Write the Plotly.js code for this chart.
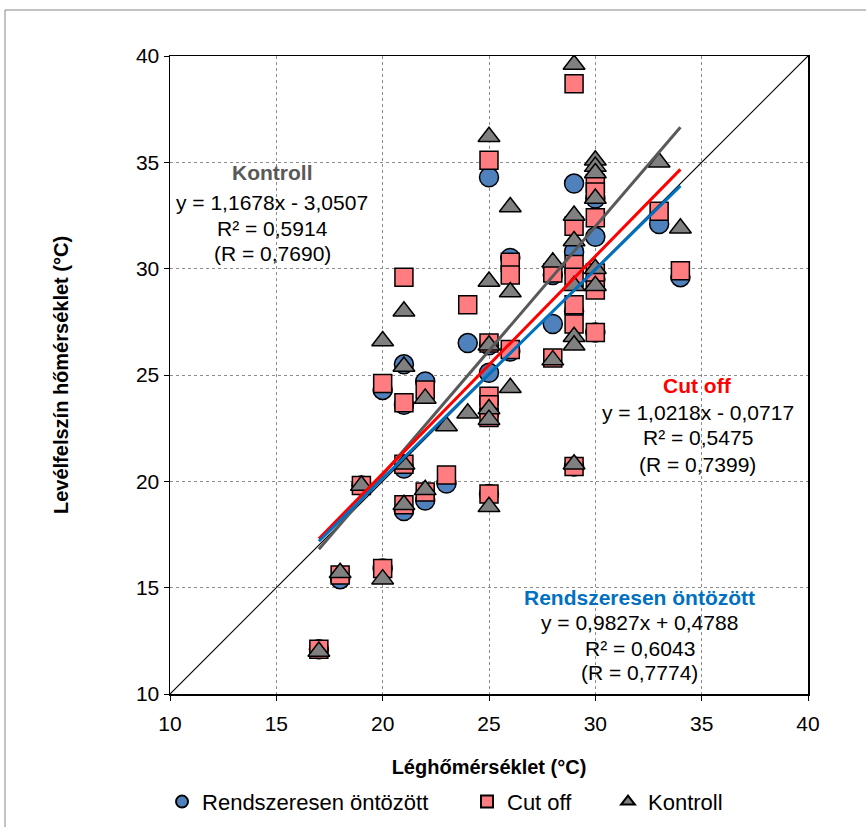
<!DOCTYPE html>
<html>
<head>
<meta charset="utf-8">
<script src="https://cdn.plot.ly/plotly-3.0.1.min.js"></script>
<style>html,body{margin:0;padding:0;background:#fff;}#chart{width:866px;height:827px;}</style>
</head>
<body>
<div id="chart"></div>
<script>
// Rendszeresen öntözött (circles)
const rendX = [17, 18, 19, 20, 20, 21, 21, 21, 21, 22, 22, 23, 24, 25, 25, 25, 25, 25, 26, 26, 28, 28, 29, 29, 29, 29, 30, 30, 30, 30, 33, 34];
const rendY = [12.1, 15.4, 19.8, 24.3, 15.9, 25.5, 23.6, 20.6, 18.6, 24.7, 19.1, 19.9, 26.5, 34.3, 26.4, 25.1, 23.2, 19.4, 30.5, 26.1, 29.7, 27.4, 34.0, 30.8, 28.0, 20.7, 33.3, 31.5, 29.5, 27.0, 32.1, 29.6];
// Cut off (squares)
const cutX = [17, 18, 19, 20, 20, 21, 21, 21, 21, 22, 22, 23, 24, 25, 25, 25, 25, 25, 25, 26, 26, 26, 28, 28, 29, 29, 29, 29, 29, 29, 29, 30, 30, 30, 30, 30, 30, 33, 34];
const cutY = [12.1, 15.6, 19.8, 24.6, 15.9, 29.6, 23.7, 20.8, 18.9, 24.3, 19.5, 20.3, 28.3, 35.1, 26.5, 24.0, 23.6, 23.0, 19.4, 30.3, 29.7, 26.2, 29.8, 25.8, 38.7, 32.0, 30.2, 29.6, 28.3, 27.4, 20.7, 34.0, 33.6, 32.4, 29.8, 29.0, 27.0, 32.7, 29.9];
// Kontroll (triangles)
const kontX = [17, 18, 19, 20, 20, 21, 21, 21, 21, 22, 22, 23, 24, 25, 25, 25, 25, 25, 25, 26, 26, 26, 28, 28, 29, 29, 29, 29, 29, 29, 29, 30, 30, 30, 30, 30, 30, 33, 34];
const kontY = [12.0, 15.7, 19.8, 26.6, 15.4, 28.0, 25.4, 20.8, 18.9, 23.9, 19.6, 22.6, 23.2, 36.2, 29.4, 26.4, 23.4, 22.9, 18.8, 32.9, 28.9, 24.4, 30.3, 25.7, 39.6, 32.5, 31.3, 29.2, 26.8, 26.4, 20.8, 35.1, 34.8, 34.5, 33.3, 30.0, 29.2, 35.0, 31.9];
// Trendline coefficients [slope, intercept] and x-range
const trendRange = [17, 34];
const rendFit = [0.9827, 0.4788];
const cutFit = [1.0218, -0.0717];
const kontFit = [1.1678, -3.0507];
const diagonal = [10, 40];
const ticks = [10, 15, 20, 25, 30, 35, 40];

const font = 'Liberation Sans, Arial, sans-serif';
function fitLine(c){ return trendRange.map(x => c[0]*x + c[1]); }

const traces = [
  {x: rendX, y: rendY, type: 'scatter', mode: 'markers', name: 'Rendszeresen öntözött', legend: 'legend',
   marker: {symbol: 'circle', size: 19, color: '#4F81BD', line: {color: '#000', width: 1.5}}},
  {x: cutX, y: cutY, type: 'scatter', mode: 'markers', name: 'Cut off', legend: 'legend2',
   marker: {symbol: 'square', size: 18, color: '#FF7C80', line: {color: '#000', width: 1.5}}},
  {x: kontX, y: kontY, type: 'scatter', mode: 'markers', name: 'Kontroll', legend: 'legend3',
   marker: {symbol: 'triangle-up', size: 19, color: '#808080', line: {color: '#000', width: 1.5}}},
  {x: diagonal, y: diagonal, type: 'scatter', mode: 'lines', showlegend: false, hoverinfo: 'skip',
   line: {color: '#000', width: 1.2}},
  {x: trendRange, y: fitLine(kontFit), type: 'scatter', mode: 'lines', showlegend: false,
   line: {color: '#595959', width: 3}},
  {x: trendRange, y: fitLine(cutFit), type: 'scatter', mode: 'lines', showlegend: false,
   line: {color: '#FF0000', width: 3}},
  {x: trendRange, y: fitLine(rendFit), type: 'scatter', mode: 'lines', showlegend: false,
   line: {color: '#0070C0', width: 3}}
];

function ann(x, y, text, color, bold){
  return {x: x, y: y, xref: 'x', yref: 'y', text: bold ? '<b>'+text+'</b>' : text, showarrow: false,
    xanchor: 'center', yanchor: 'middle', font: {family: font, size: 21, color: color}};
}
function leg(x){
  return {orientation: 'h', x: x, xanchor: 'left', y: -0.169, yanchor: 'middle',
    font: {family: font, size: 22}, itemsizing: 'constant', itemwidth: 30, bgcolor: 'rgba(0,0,0,0)'};
}

const layout = {
  width: 866, height: 827,
  margin: {l: 170, r: 58, t: 56, b: 133, autoexpand: false},
  paper_bgcolor: '#fff', plot_bgcolor: '#fff',
  font: {family: font, size: 21, color: '#000'},
  xaxis: {range: [10, 40], tickvals: ticks, ticks: 'outside', ticklen: 5, tickcolor: '#000',
    ticklabelstandoff: 5, tickfont: {family: font, size: 21},
    showline: true, mirror: true, linecolor: '#000', linewidth: 1.5, automargin: false,
    showgrid: true, gridcolor: '#8c8c8c', griddash: 'dot', gridwidth: 1, zeroline: false,
    title: {text: '<b>Léghőmérséklet (°C)</b>', font: {family: font, size: 20}, standoff: 26}},
  yaxis: {range: [10, 40], tickvals: ticks, ticks: 'outside', ticklen: 5, tickcolor: '#000',
    tickfont: {family: font, size: 21},
    showline: true, mirror: true, linecolor: '#000', linewidth: 1.5, automargin: false,
    showgrid: true, gridcolor: '#8c8c8c', griddash: 'dot', gridwidth: 1, zeroline: false,
    title: {text: '<b>Levélfelszín hőmérséklet (°C)</b>', font: {family: font, size: 20}, standoff: 62}},
  showlegend: true,
  legend: leg(-0.0125),
  legend2: leg(0.4655),
  legend3: leg(0.6865),
  annotations: [
    ann(14.8, 34.5, 'Kontroll', '#595959', true),
    ann(14.8, 33.1, 'y = 1,1678x - 3,0507', '#000', false),
    ann(14.8, 31.9, 'R² = 0,5914', '#000', false),
    ann(14.8, 30.7, '(R = 0,7690)', '#000', false),
    ann(34.82, 24.53, 'Cut off', '#FF0000', true),
    ann(34.82, 23.26, 'y = 1,0218x - 0,0717', '#000', false),
    ann(34.82, 22.04, 'R² = 0,5475', '#000', false),
    ann(34.82, 20.77, '(R = 0,7399)', '#000', false),
    ann(32.1, 14.56, 'Rendszeresen öntözött', '#0070C0', true),
    ann(32.1, 13.34, 'y = 0,9827x + 0,4788', '#000', false),
    ann(32.1, 12.16, 'R² = 0,6043', '#000', false),
    ann(32.1, 10.99, '(R = 0,7774)', '#000', false)
  ],
  shapes: [{type: 'rect', xref: 'paper', yref: 'paper', x0: -0.2586, x1: 1.3, y0: -0.4, y1: 1.0721,
    line: {color: '#868686', width: 1}, fillcolor: 'rgba(0,0,0,0)', layer: 'below'}]
};

Plotly.newPlot('chart', traces, layout, {displayModeBar: false, staticPlot: true});
</script>
</body>
</html>
